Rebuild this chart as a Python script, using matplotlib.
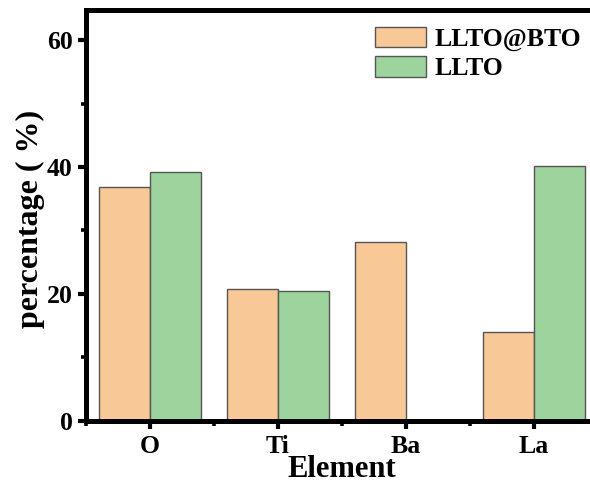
import matplotlib
matplotlib.use("Agg")
import matplotlib.pyplot as plt
import numpy as np
from matplotlib.ticker import MultipleLocator, FixedLocator

categories = ["O", "Ti", "Ba", "La"]
llto_bto = [36.9, 20.8, 28.2, 13.9]
llto = [39.3, 20.4, 0.0, 40.1]
series_names = ["LLTO@BTO", "LLTO"]

plt.rcParams['font.family'] = ['Liberation Serif', 'DejaVu Serif']
plt.rcParams['font.weight'] = 'bold'

fig = plt.figure(figsize=(5.9, 4.88), dpi=100)
W, H = 590, 488
left, right, top, bottom = 86, 598, 10, 420.5
ax = fig.add_axes([left / W, 1 - bottom / H, (right - left) / W, (bottom - top) / H])

x = np.arange(1, len(categories) + 1)
w = 0.4
ax.bar(x - w / 2, llto_bto, w, color="#F9C897", edgecolor="#555555", linewidth=1.0, label=series_names[0])
ax.bar(x + w / 2, llto, w, color="#9DD49D", edgecolor="#555555", linewidth=1.0, label=series_names[1])

ax.set_xlim(0.5, 4.5)
ax.set_ylim(0, 64.8)
ax.set_xticks(x)
ax.set_xticklabels(categories)
ax.xaxis.set_minor_locator(FixedLocator([0.5, 1.5, 2.5, 3.5, 4.5]))
ax.yaxis.set_major_locator(MultipleLocator(20))
ax.yaxis.set_minor_locator(MultipleLocator(10))

for s in ax.spines.values():
    s.set_linewidth(3.6)
ax.tick_params(which='major', direction='out', length=5.5, width=3.0, labelsize=18.5, pad=4)
ax.tick_params(axis='x', which='major', pad=5)
ax.tick_params(which='minor', direction='out', length=3.8, width=2.6)
ax.tick_params(top=False, right=False)

ax.set_xlabel("Element", fontsize=22, fontweight='bold', labelpad=-2)
ax.set_ylabel("percentage ( %)", fontsize=23, fontweight='bold')
ax.yaxis.set_label_coords(-0.08, 0.49)

ax.legend(loc='upper right', bbox_to_anchor=((590 - 86) / 512 + 0.012, 0.997),
          frameon=False, fontsize=18.5, handlelength=2.0, handleheight=0.85,
          labelspacing=0.2, handletextpad=0.3, borderaxespad=0.2)

fig.savefig("out.png", dpi=100)
